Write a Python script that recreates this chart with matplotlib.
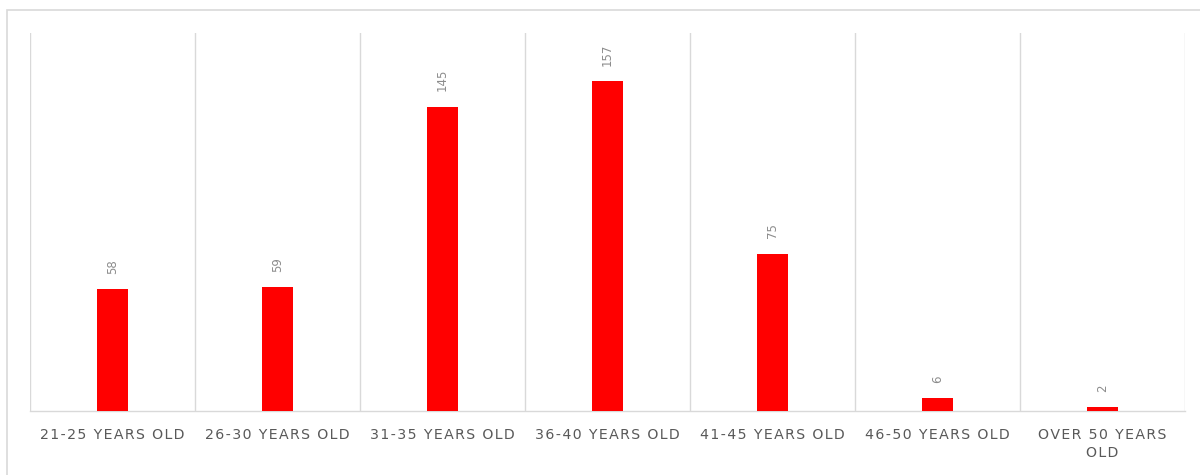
import matplotlib.pyplot as plt
from matplotlib.patches import Rectangle

# age groups and head counts
categories = ['21-25 YEARS OLD', '26-30 YEARS OLD', '31-35 YEARS OLD',
              '36-40 YEARS OLD', '41-45 YEARS OLD', '46-50 YEARS OLD',
              'OVER 50 YEARS\nOLD']
counts = [58, 59, 145, 157, 75, 6, 2]

grid_col = '#d9d9d9'
text_col = '#595959'

plt.rcParams['font.family'] = ['DejaVu Sans']


def spaced(s):
    # widen the tracking of the axis labels with hair spaces
    return '\n'.join('\u200a'.join(line) for line in s.split('\n'))


fig = plt.figure(figsize=(12, 4.75), dpi=100)
# chart frame
fig.patches.append(Rectangle((7 / 1200, -0.1), 1.1, 1.1 - 10 / 475,
                             transform=fig.transFigure, fill=False,
                             edgecolor=grid_col, linewidth=1.2))

ax = fig.add_axes([30 / 1200, 64 / 475, 1155 / 1200, 378 / 475])
x = range(len(categories))
bars = ax.bar(x, counts, width=0.19, color='#ff0000', zorder=3)

ax.set_xlim(-0.5, len(categories) - 0.5)
ax.set_ylim(0, 180)

# vertical separators between groups
for b in range(len(categories) + 1):
    ax.axvline(b - 0.5, color=grid_col, linewidth=1, zorder=1)

for s in ['top', 'left', 'right']:
    ax.spines[s].set_visible(False)
ax.spines['bottom'].set_color(grid_col)
ax.spines['bottom'].set_linewidth(1)

ax.set_yticks([])
ax.set_xticks(list(x))
ax.set_xticklabels([spaced(c) for c in categories], fontsize=10.2,
                   color=text_col, linespacing=1.4)
ax.tick_params(axis='x', length=0, pad=12)

for rect, v in zip(bars, counts):
    ax.annotate(str(v), (rect.get_x() + rect.get_width() / 2, v),
                xytext=(0, 11), textcoords='offset points',
                rotation=90, ha='center', va='bottom',
                fontsize=8.5, color='#8c8c8c')

fig.savefig('out.png', dpi=100)
